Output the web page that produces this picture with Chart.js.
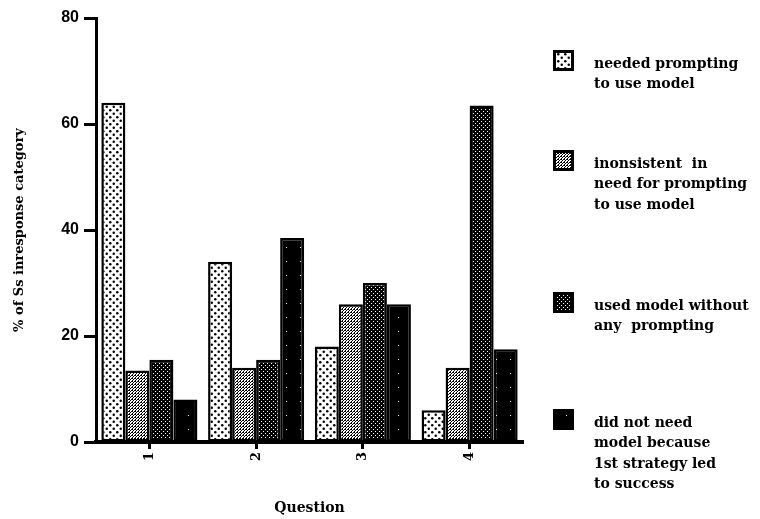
<!DOCTYPE html>
<html>
<head>
<meta charset="utf-8">
<script src="https://cdn.jsdelivr.net/npm/chart.js@4.4.1/dist/chart.umd.min.js"></script>
<style>
  html, body { margin: 0; padding: 0; background: #fff; }
  #wrap { width: 760px; height: 519px; position: relative; }
</style>
</head>
<body>
<div id="wrap"><canvas id="responseChart" width="760" height="519"></canvas></div>
<script>
// Data
const questions = ['1', '2', '3', '4'];
const yTicks = [0, 20, 40, 60, 80];

const neededPrompting = [64, 34, 18, 6];
const inconsistent = [13.5, 14, 26, 14];
const usedWithout = [15.5, 15.5, 30, 63.5];
const didNotNeed = [8, 38.5, 26, 17.5];

const legendLines = [
  ['needed prompting', 'to use model'],
  ['inonsistent  in', 'need for prompting', 'to use model'],
  ['used model without', 'any  prompting'],
  ['did not need', 'model because', '1st strategy led', 'to success'],
];

const SERIF = '"DejaVu Serif", "Liberation Serif", serif';

// Fill patterns for the bars
function makePattern(size, bg, draw) {
  const c = document.createElement('canvas');
  c.width = size;
  c.height = size;
  const g = c.getContext('2d');
  g.fillStyle = bg;
  g.fillRect(0, 0, size, size);
  g.fillStyle = bg === '#fff' ? '#000' : '#fff';
  draw(g);
  return document.createElement('canvas').getContext('2d').createPattern(c, 'repeat');
}

const patterns = [
  // white with black dots
  makePattern(7, '#fff', (g) => {
    g.beginPath(); g.arc(1.75, 1.75, 1.25, 0, Math.PI * 2); g.fill();
    g.beginPath(); g.arc(5.25, 5.25, 1.25, 0, Math.PI * 2); g.fill();
  }),
  // light cross hatch
  makePattern(3, '#fff', (g) => {
    g.fillRect(0, 0, 1, 1);
    g.fillRect(2, 0, 1, 1);
    g.fillRect(1, 1, 1, 1);
    g.fillRect(0, 2, 1, 1);
  }),
  // dark cross hatch
  makePattern(4, '#000', (g) => {
    g.fillRect(1, 1, 1, 1);
    g.fillRect(3, 3, 1, 1);
  }),
  // near solid black
  makePattern(14, '#000', (g) => {
    g.fillRect(6, 9, 1, 1);
  }),
];

const seriesValues = [neededPrompting, inconsistent, usedWithout, didNotNeed];

const datasets = seriesValues.map((vals, i) => ({
  label: legendLines[i].join(' '),
  data: vals,
  backgroundColor: patterns[i],
  borderColor: '#000',
  borderWidth: 2.5,
  borderSkipped: false,
  categoryPercentage: 0.9,
  barPercentage: 1.0,
}));

// Legend on the right side, boxes plus wrapped text
const sideLegend = {
  id: 'sideLegend',
  afterDraw(chart) {
    const ctx = chart.ctx;
    const tops = [50, 150, 292, 409];
    ctx.save();
    chart.data.datasets.forEach((ds, i) => {
      const top = tops[i];
      ctx.fillStyle = ds.backgroundColor;
      ctx.fillRect(553, top, 21, 21);
      ctx.lineWidth = 3;
      ctx.strokeStyle = '#000';
      ctx.strokeRect(554.5, top + 1.5, 18, 18);
      ctx.fillStyle = '#000';
      ctx.font = 'bold 14px ' + SERIF;
      ctx.textBaseline = 'middle';
      legendLines[i].forEach((line, j) => {
        ctx.fillText(line, 594, top + 14 + j * 20.5);
      });
    });
    ctx.restore();
  },
};

function createChart() {
  const ctx = document.getElementById('responseChart').getContext('2d');
  /* global Chart */
  return new Chart(ctx, {
    type: 'bar',
    data: { labels: questions, datasets: datasets },
    plugins: [sideLegend],
    options: {
      responsive: false,
      animation: false,
      layout: { padding: { top: 18, right: 237, bottom: 0, left: 0 } },
      plugins: {
        legend: { display: false },
        tooltip: { enabled: false },
      },
      scales: {
        x: {
          border: { display: true, color: '#000', width: 4 },
          grid: {
            offset: false,
            drawOnChartArea: false,
            drawTicks: true,
            tickLength: 7,
            tickWidth: 3,
            tickColor: '#000',
          },
          ticks: {
            color: '#000',
            maxRotation: 90,
            minRotation: 90,
            padding: 3,
            font: { family: SERIF, size: 13, weight: 'bold' },
          },
          title: {
            display: true,
            text: 'Question',
            color: '#000',
            padding: { top: 0, bottom: 2 },
            font: { family: SERIF, size: 14, weight: 'bold' },
          },
          afterFit(scale) {
            scale.height = 77;
          },
        },
        y: {
          min: 0,
          max: 80,
          afterBuildTicks(scale) {
            scale.ticks = yTicks.map((v) => ({ value: v }));
          },
          border: { display: true, color: '#000', width: 3 },
          grid: {
            drawOnChartArea: false,
            drawTicks: true,
            tickLength: 12,
            tickWidth: 3,
            tickColor: '#000',
          },
          ticks: {
            color: '#000',
            padding: 5,
            font: { family: '"Liberation Sans", Arial, sans-serif', size: 16, weight: 'bold' },
          },
          title: {
            display: true,
            text: '% of Ss inresponse category',
            color: '#000',
            padding: { top: 12, bottom: 0 },
            font: { family: SERIF, size: 13, weight: 'bold' },
          },
          afterFit(scale) {
            scale.width = 96;
          },
        },
      },
    },
  });
}

createChart();
</script>
</body>
</html>
